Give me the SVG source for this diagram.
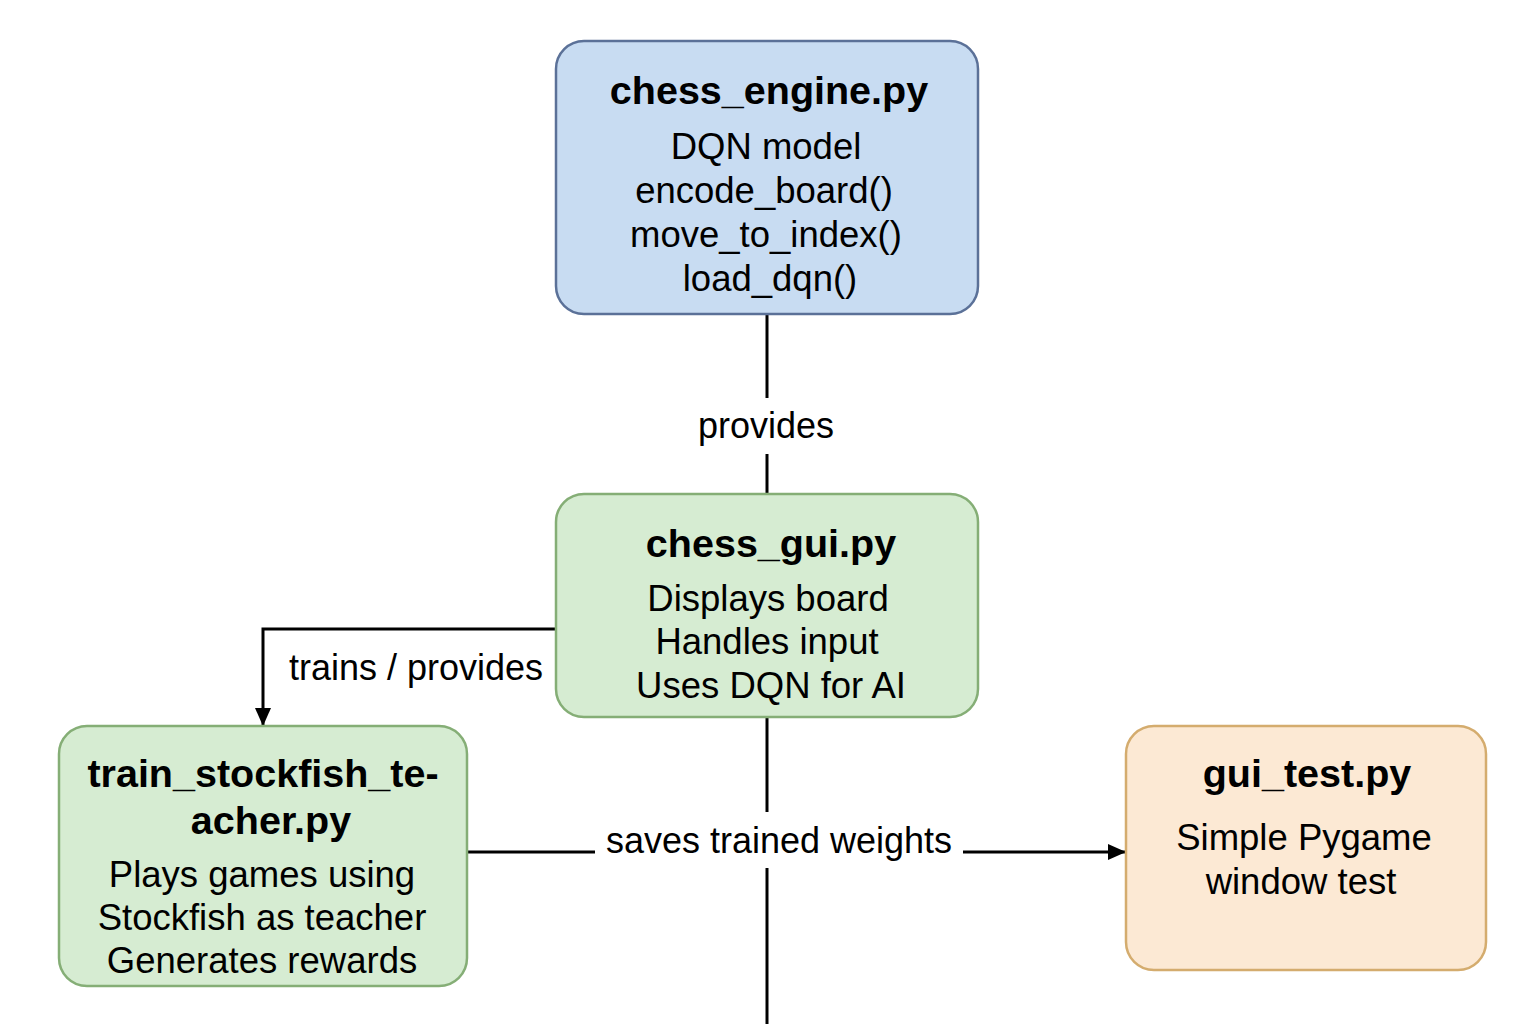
<svg xmlns="http://www.w3.org/2000/svg" width="1536" height="1024" viewBox="0 0 1536 1024">
<style>
text{font-family:"Liberation Sans",Arial,sans-serif;fill:#000;text-anchor:middle}
.t{font-weight:bold;font-size:39.5px}
.b{font-size:36.5px}
.l{font-size:36px}
.blue{fill:#c8dcf2;stroke:#5b7198;stroke-width:2.5}
.green{fill:#d6ecd2;stroke:#85ae76;stroke-width:2.5}
.orange{fill:#fce9d4;stroke:#d4ac6e;stroke-width:2.5}
.c{stroke:#000;stroke-width:3;fill:none}
</style>
<defs>
<marker id="ah2" markerWidth="18" markerHeight="16" refX="17" refY="8" orient="auto" markerUnits="userSpaceOnUse" viewBox="0 0 18 16">
<path d="M0,0 L18,8 L0,16 Z" fill="#000"/>
</marker>
</defs>
<rect width="1536" height="1024" fill="#fff"/>
<g id="connectors">
<line class="c" x1="767" y1="315" x2="767" y2="398"/>
<line class="c" x1="767" y1="454" x2="767" y2="493"/>
<text class="l" x="766" y="438">provides</text>
<polyline class="c" points="556,629 263,629 263,725" marker-end="url(#ah2)"/>
<text class="l" x="416" y="680">trains / provides</text>
<line class="c" x1="767" y1="718" x2="767" y2="812"/>
<line class="c" x1="767" y1="868" x2="767" y2="1024"/>
<line class="c" x1="468" y1="852" x2="595" y2="852"/>
<line class="c" x1="963" y1="852" x2="1125" y2="852" marker-end="url(#ah2)"/>
<text class="l" x="779" y="853">saves trained weights</text>
</g>
<g id="chess_engine">
<rect class="blue" x="556" y="41" width="422" height="273" rx="28"/>
<text class="t" x="769" y="104">chess_engine.py</text>
<text class="b" x="766" y="159">DQN model</text>
<text class="b" x="764" y="203">encode_board()</text>
<text class="b" x="766" y="247">move_to_index()</text>
<text class="b" x="770" y="291">load_dqn()</text>
</g>
<g id="chess_gui">
<rect class="green" x="556" y="494" width="422" height="223" rx="28"/>
<text class="t" x="771" y="557">chess_gui.py</text>
<text class="b" x="768" y="611">Displays board</text>
<text class="b" x="767" y="654">Handles input</text>
<text class="b" x="771" y="698">Uses DQN for AI</text>
</g>
<g id="train_stockfish_teacher">
<rect class="green" x="59" y="726" width="408" height="260" rx="28"/>
<text class="t" x="263" y="787">train_stockfish_te-</text>
<text class="t" x="271" y="834">acher.py</text>
<text class="b" x="262" y="887">Plays games using</text>
<text class="b" x="262" y="930">Stockfish as teacher</text>
<text class="b" x="262" y="973">Generates rewards</text>
</g>
<g id="gui_test">
<rect class="orange" x="1126" y="726" width="360" height="244" rx="28"/>
<text class="t" x="1307" y="787">gui_test.py</text>
<text class="b" x="1304" y="850">Simple Pygame</text>
<text class="b" x="1301" y="894">window test</text>
</g>
</svg>
